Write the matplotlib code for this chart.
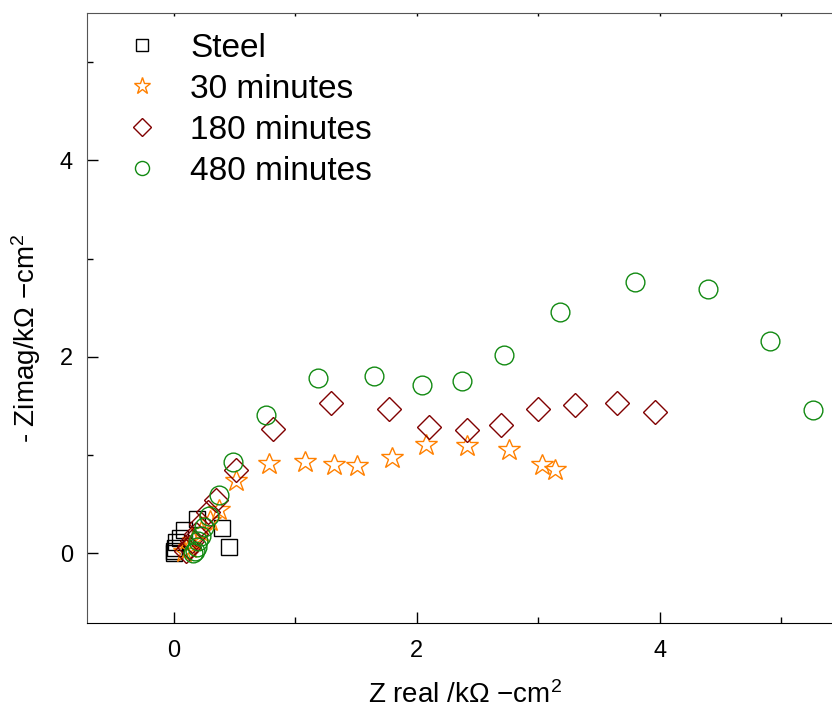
import matplotlib
matplotlib.use("Agg")
import matplotlib.pyplot as plt
from matplotlib.ticker import MultipleLocator

plt.rcParams['font.family'] = ['Liberation Sans', 'DejaVu Sans']
plt.rcParams['mathtext.fontset'] = 'custom'
plt.rcParams['mathtext.rm'] = 'Liberation Sans'
plt.rcParams['mathtext.it'] = 'Liberation Sans'

# Nyquist data (kOhm cm^2)
steel_x = [0.0, 0.0, 0.01, 0.02, 0.05, 0.08, 0.19, 0.40, 0.45]
steel_y = [0.0, 0.02, 0.05, 0.11, 0.16, 0.24, 0.35, 0.26, 0.06]

m30_x = [0.08, 0.12, 0.16, 0.22, 0.30, 0.37, 0.51, 0.78, 1.08, 1.32, 1.51,
         1.80, 2.08, 2.41, 2.76, 3.03, 3.14]
m30_y = [0.01, 0.05, 0.12, 0.22, 0.33, 0.44, 0.74, 0.91, 0.93, 0.90, 0.89,
         0.97, 1.10, 1.09, 1.05, 0.90, 0.85]

m180_x = [0.10, 0.12, 0.15, 0.18, 0.22, 0.28, 0.35, 0.51, 0.82, 1.29, 1.77,
          2.10, 2.41, 2.69, 3.00, 3.30, 3.65, 3.96]
m180_y = [0.02, 0.06, 0.12, 0.20, 0.30, 0.42, 0.54, 0.85, 1.27, 1.53, 1.47,
          1.29, 1.25, 1.31, 1.47, 1.51, 1.53, 1.44]

m480_x = [0.16, 0.17, 0.19, 0.20, 0.22, 0.25, 0.29, 0.37, 0.49, 0.76, 1.19,
          1.65, 2.04, 2.37, 2.72, 3.18, 3.80, 4.40, 4.91, 5.26]
m480_y = [0.00, 0.02, 0.06, 0.12, 0.18, 0.27, 0.38, 0.59, 0.93, 1.41, 1.78,
          1.80, 1.71, 1.75, 2.02, 2.46, 2.76, 2.69, 2.16, 1.46]

labels = ["Steel", "30 minutes", "180 minutes", "480 minutes"]

fig = plt.figure(figsize=(8.32, 7.08), dpi=100)
ax = fig.add_axes([87 / 832, 85 / 708, 1 - 87 / 832, 610 / 708])

ax.plot(steel_x, steel_y, 's', ms=11.5, mfc='none', mec='black', mew=1.0, label=labels[0])
ax.plot(m30_x, m30_y, '*', ms=16.5, mfc='none', mec='#ff8000', mew=1.0, label=labels[1])
ax.plot(m180_x, m180_y, 'D', ms=12, mfc='none', mec='#800000', mew=1.0, label=labels[2])
ax.plot(m480_x, m480_y, 'o', ms=13.5, mfc='none', mec='#128a12', mew=1.0, label=labels[3])

ax.set_xlim(-0.716, 5.42)
ax.set_ylim(-0.71, 5.50)

ax.xaxis.set_major_locator(MultipleLocator(2))
ax.xaxis.set_minor_locator(MultipleLocator(1))
ax.yaxis.set_major_locator(MultipleLocator(2))
ax.yaxis.set_minor_locator(MultipleLocator(1))
ax.tick_params(which='major', direction='in', length=8, width=1, labelsize=17, pad=10)
ax.tick_params(which='minor', direction='in', length=4, width=1)
ax.tick_params(axis='x', which='major', pad=12)
ax.tick_params(axis='x', which='both', top=True)
# only tiny marks on the top spine
for t in ax.xaxis.get_major_ticks() + ax.xaxis.get_minor_ticks():
    t.tick2line.set_markersize(2)

ax.spines['right'].set_visible(False)
for s in ['left', 'top']:
    ax.spines[s].set_color('#555555')
ax.spines['bottom'].set_color('black')

ax.set_xlabel(r"Z real /k$\Omega$ $-$cm$^2$", fontsize=20, labelpad=14)
ax.set_ylabel(r"- Zimag/k$\Omega$ $-$cm$^2$", fontsize=20, labelpad=12)
ax.xaxis.label.set_x(0.507)
ax.yaxis.label.set_y(0.467)

ax.legend(loc='upper left', bbox_to_anchor=(0.0, 1.017), frameon=False, fontsize=24,
          markerscale=0.75, handlelength=1.5, handletextpad=0.7, labelspacing=0.3,
          borderaxespad=0.5)

fig.savefig("out.png", dpi=100)
